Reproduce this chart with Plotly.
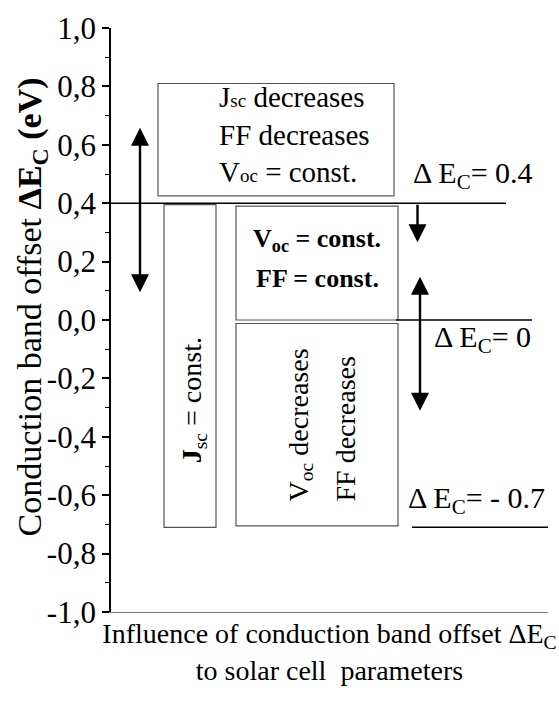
import plotly.graph_objects as go

# ---- data ----
y_tick_vals = [-1.0, -0.8, -0.6, -0.4, -0.2, 0.0, 0.2, 0.4, 0.6, 0.8, 1.0]
y_tick_labels = ["-1,0", "-0,8", "-0,6", "-0,4", "-0,2", "0,0", "0,2", "0,4", "0,6", "0,8", "1,0"]
y_minor_vals = [-0.9, -0.7, -0.5, -0.3, -0.1, 0.1, 0.3, 0.5, 0.7, 0.9]

# conduction band offset levels (eV) and where their lines are drawn
level_values = [0.4, 0.0, -0.7]
level_lines_y = [0.4, 0.0, -0.71]
level_labels = ["Δ\u2009E<sub>C</sub>= 0.4", "Δ\u2009E<sub>C</sub>= 0", "Δ\u2009E<sub>C</sub>= - 0.7"]

# regions (y-ranges in eV)
box_jsc_dec = (0.425, 0.81)
box_jsc_const = (-0.71, 0.395)
box_voc_const = (0.0, 0.39)
box_voc_dec = (-0.705, -0.012)

# arrows (tail, head) in eV
arrow_left = (0.09, 0.658)
arrow_right_down = (0.4, 0.266)
arrow_right_both = (-0.316, 0.148)

SERIF = "Liberation Serif"

fig = go.Figure()
fig.add_trace(go.Scatter(x=[111, 548], y=[-1, 1], mode="markers",
                         marker=dict(opacity=0), hoverinfo="skip", showlegend=False))

shapes = []
def box(x0, x1, yr, color="#555555"):
    shapes.append(dict(type="rect", xref="x", yref="y", x0=x0, x1=x1, y0=yr[0], y1=yr[1],
                       line=dict(color=color, width=1.2), fillcolor="rgba(0,0,0,0)"))

box(158, 394, box_jsc_dec)
box(164, 216, box_jsc_const)
box(236, 398, box_voc_const)
box(236, 398, box_voc_dec)

line_x = [(111, 506), (396, 532), (412, 548)]
for (x0, x1), yv in zip(line_x, level_lines_y):
    shapes.append(dict(type="line", xref="x", yref="y", x0=x0, x1=x1, y0=yv, y1=yv,
                       line=dict(color="black", width=1.6)))

ann = []
def arrow(x, tail, head, both=True):
    ann.append(dict(x=x, y=head, ax=x, ay=tail, xref="x", yref="y",
                    axref="x", ayref="y", text="", showarrow=True, arrowhead=2,
                    arrowside="end+start" if both else "end", arrowwidth=2.4,
                    arrowsize=1.5, arrowcolor="black", standoff=0, startstandoff=0,
                    startarrowhead=2, startarrowsize=1.5))

arrow(140, arrow_left[0], arrow_left[1])
arrow(417.5, arrow_right_down[0], arrow_right_down[1], both=False)
arrow(420, arrow_right_both[0], arrow_right_both[1])

def text(x, y, t, size=28, angle=0, xanchor="center", yanchor="middle", align="center",
         xref="x", yref="y"):
    ann.append(dict(x=x, y=y, xref=xref, yref=yref, text=t, showarrow=False,
                    textangle=angle, xanchor=xanchor, yanchor=yanchor, align=align,
                    font=dict(family=SERIF, size=size, color="black")))

sm = "<span style='font-size:19px'>%s</span>"
text(217, 0.637, "J" + sm % "sc" + " decreases<br>FF decreases<br>V" + sm % "oc" + " = const.",
     size=29, xanchor="left", align="left")
text(317, 0.274, "<b>V<sub>oc</sub> = const.</b>", size=26)
text(317, 0.143, "<b>FF = const.</b>", size=26)
text(193, -0.275, "<b>J</b><sub>sc</sub> = const.", size=28, angle=-90)
text(300, -0.63, "V<sub>oc</sub> decreases", size=28, angle=-90, yanchor="bottom")
text(345, -0.63, "FF decreases", size=28, angle=-90, yanchor="bottom")

label_pos = [(473, 0.497), (482, -0.064), (476, -0.617)]
for (lx, ly), lab in zip(label_pos, level_labels):
    text(lx, ly, lab, size=30)

# y-axis title (placed as rotated text to match the reference position)
text(-0.18, 0.522, "Conduction band offset <b>ΔE<sub>C</sub> (eV)</b>", size=34, angle=-90,
     xref="paper", yref="paper")

fig.update_layout(
    width=559, height=707,
    margin=dict(l=111, r=11, t=21, b=95),
    paper_bgcolor="white", plot_bgcolor="white",
    showlegend=False,
    shapes=shapes, annotations=ann,
    font=dict(family=SERIF, color="black"),
    xaxis=dict(range=[111, 548], showgrid=False, zeroline=False, showticklabels=False,
               ticks="", showline=True, linecolor="#777777", linewidth=1.2,
               title=dict(text="Influence of conduction band offset ΔE<sub>C</sub><br>to solar cell  parameters",
                          font=dict(family=SERIF, size=28), standoff=11)),
    yaxis=dict(range=[-1, 1], showgrid=False, zeroline=False, showline=True,
               linecolor="black", linewidth=1.8, ticks="outside", ticklen=7, tickwidth=1.5,
               tickcolor="black", tickvals=y_tick_vals, ticktext=y_tick_labels,
               tickfont=dict(family=SERIF, size=31),
               minor=dict(tickvals=y_minor_vals, ticks="outside", ticklen=4, tickwidth=1.2,
                          tickcolor="black")),
)

fig.write_html("out.html")
